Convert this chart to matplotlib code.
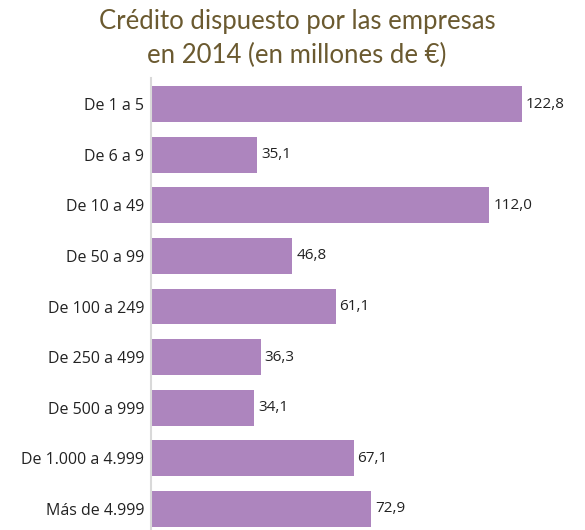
import matplotlib.pyplot as plt

categories = ['De 1 a 5', 'De 6 a 9', 'De 10 a 49', 'De 50 a 99', 'De 100 a 249',
              'De 250 a 499', 'De 500 a 999', 'De 1.000 a 4.999', 'Más de 4.999']
values = [122.8, 35.1, 112.0, 46.8, 61.1, 36.3, 34.1, 67.1, 72.9]
value_labels = ['122,8', '35,1', '112,0', '46,8', '61,1', '36,3', '34,1', '67,1', '72,9']

bar_color = '#AD85BE'
title_color = '#6B5A30'

fig = plt.figure(figsize=(5.85, 5.3), dpi=100)
ax = fig.add_axes([151/585, 0.0, 1 - 151/585, 1 - 78/530])

ypos = list(range(len(categories)))
ax.barh(ypos, values, height=0.71, color=bar_color)

for y, v, lab in zip(ypos, values, value_labels):
    ax.text(v + 1.3, y, lab, va='center', ha='left', fontsize=11,
            family='Open Sans', color='#222222')

ax.set_yticks(ypos)
ax.set_yticklabels(categories, fontsize=11.5, family='Open Sans', color='#222222')
ax.tick_params(axis='y', length=0, pad=5)
ax.set_xticks([])
ax.set_xlim(0, (585 - 151) / 3.02)
ax.set_ylim(8.415, -0.514)

for s in ['top', 'right', 'bottom']:
    ax.spines[s].set_visible(False)
ax.spines['left'].set_color('#d9d9d9')
ax.spines['left'].set_linewidth(1.5)

fig.text(0.508, 1 - 29/530, 'Crédito dispuesto por las empresas', ha='center', va='baseline',
         fontsize=18.5, family='Lato', color=title_color)
fig.text(0.508, 1 - 63/530, 'en 2014 (en millones de €)', ha='center', va='baseline',
         fontsize=18.5, family='Lato', color=title_color)

fig.savefig('out.png', dpi=100)
